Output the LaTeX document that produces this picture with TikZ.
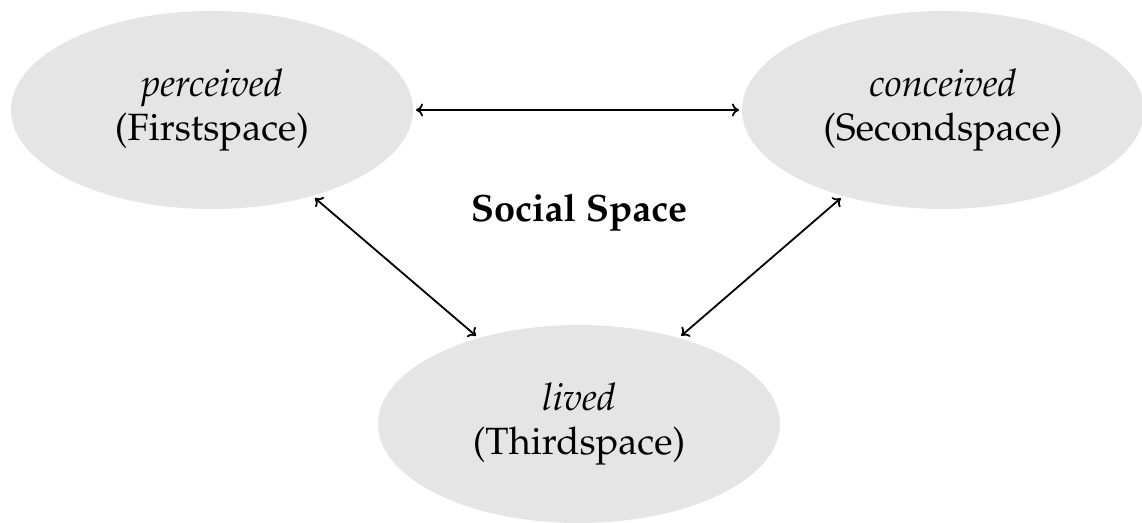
\documentclass[tikz,border=0pt]{standalone}
\usepackage[T1]{fontenc}
\usepackage{mathpazo}
\usetikzlibrary{shapes.geometric,arrows.meta}
\begin{document}
\begin{tikzpicture}[x=0.5pt,y=-0.5pt,
  space/.style={ellipse, fill=gray!20, minimum width=201pt, minimum height=99pt,
    inner sep=0pt, outer sep=1.5pt, align=center, font=\fontsize{19}{22}\selectfont},
  link/.style={{To[length=3.5pt,width=6.5pt]}-{To[length=3.5pt,width=6.5pt]}, line width=0.9pt},
  title/.style={font=\fontsize{19}{22}\selectfont\bfseries, anchor=base, inner sep=0pt}]
\useasboundingbox (0,0) rectangle (1142,523);
\node[space] (p) at (212,110) {\textit{perceived}\\(Firstspace)};
\node[space] (c) at (943,110) {\textit{conceived}\\(Secondspace)};
\node[space] (l) at (579,424) {\textit{lived}\\(Thirdspace)};
\node[title] (s) at (579,222) {Social Space};
\draw[link] (p) -- (c);
\draw[link] (p) -- (l);
\draw[link] (c) -- (l);
\end{tikzpicture}
\end{document}
